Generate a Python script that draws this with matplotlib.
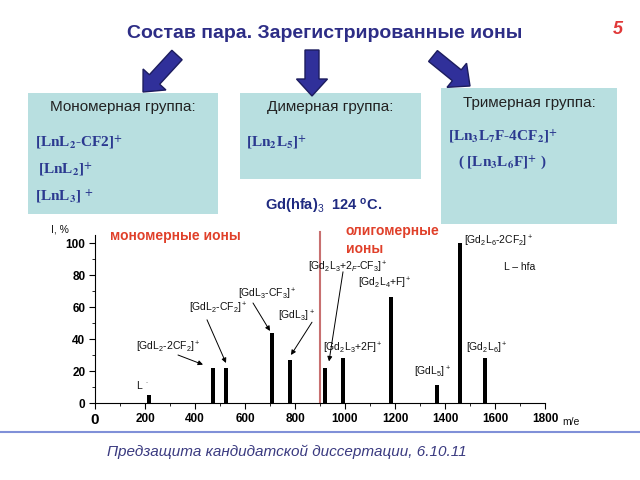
import matplotlib
matplotlib.use("Agg")
import matplotlib.pyplot as plt
from matplotlib.patches import Rectangle, FancyArrow
from matplotlib.ticker import MultipleLocator

# mass spectrum of Gd(hfa)3 vapour
mz = [216, 472, 524, 708, 780, 920, 992, 1184, 1368, 1460, 1560]
intensity = [5, 22, 22, 44, 27, 22, 28, 66, 11, 100, 28]

x_ticks = [0, 200, 400, 600, 800, 1000, 1200, 1400, 1600, 1800]
y_ticks = [0, 20, 40, 60, 80, 100]

# peak labels: text, x, y (data units)
peak_labels = [
    ("[GdL$_2$-2CF$_2$]$^+$", 292, 35),
    ("[GdL$_2$-CF$_2$]$^+$", 492, 59),
    ("[GdL$_3$-CF$_3$]$^+$", 688, 68),
    ("[GdL$_3$]$^+$", 808, 54),
    ("L $^\\cdot$", 190, 11),
    ("[Gd$_2$L$_3$+2$_F$-CF$_3$]$^+$", 1012, 85),
    ("[Gd$_2$L$_3$+2F]$^+$", 1032, 34),
    ("[Gd$_2$L$_4$+F]$^+$", 1160, 75),
    ("[GdL$_5$]$^+$", 1352, 19),
    ("[Gd$_2$L$_6$-2CF$_2$]$^+$", 1612, 101),
    ("L – hfa", 1700, 85),
    ("[Gd$_2$L$_6$]$^+$", 1568, 34),
]
# pointer lines: start (x, y) -> end (x, y)
pointers = [
    ((332, 30), (432, 24)),
    ((448, 52), (524, 25)),
    ((632, 62.5), (700, 45)),
    ((868, 50.5), (784, 30)),
    ((992, 82), (936, 26)),
]

plt.rcParams["mathtext.fontset"] = "custom"
plt.rcParams["mathtext.rm"] = "Liberation Sans"
plt.rcParams["mathtext.it"] = "Liberation Sans:italic"
plt.rcParams["mathtext.bf"] = "Liberation Sans:bold"
plt.rcParams["font.family"] = ["Liberation Sans", "DejaVu Sans"]

navy = "#2d2d86"
formula = "#2b3990"
box_fc = "#b8dfe0"
red = "#e0402a"

fig = plt.figure(figsize=(6.4, 4.8), dpi=100)

# slide layer in pixel coordinates
bg = fig.add_axes([0, 0, 1, 1])
bg.set_xlim(0, 640)
bg.set_ylim(480, 0)
bg.axis("off")

bg.text(325, 33, "Состав пара. Зарегистрированные ионы", ha="center", va="center",
        fontsize=14, fontweight="bold", color=navy)
bg.text(618, 30, "5", ha="center", va="center", fontsize=13, fontweight="bold",
        fontstyle="italic", color="#e03838")

# big arrows
for (x0, y0), (x1, y1) in [((177, 55), (143, 92)), ((312, 50), (312, 96)), ((433, 56), (470, 86))]:
    bg.add_patch(FancyArrow(x0, y0, x1 - x0, y1 - y0, width=14, head_width=31, head_length=17,
                            length_includes_head=True, fc="#30309a", ec="#1c1c5e", lw=1, zorder=3))

# group boxes
for x, y, w, h in [(28, 93, 190, 121), (240, 93, 181, 86), (441, 88, 176, 136)]:
    bg.add_patch(Rectangle((x, y), w, h, fc=box_fc, ec="none", zorder=1))

bg.text(123, 107, "Мономерная группа:", ha="center", va="center", fontsize=11, color="#222222")
bg.text(330, 107, "Димерная группа:", ha="center", va="center", fontsize=11, color="#222222")
bg.text(529, 103, "Тримерная группа:", ha="center", va="center", fontsize=11, color="#222222")

box_formulas = [
    (35, 143, "[LnL$_\\mathbf{2}$-CF2]$^\\mathbf{+}$"),
    (38, 170, "[LnL$_\\mathbf{2}$]$^\\mathbf{+}$"),
    (35, 197, "[LnL$_\\mathbf{3}$] $^\\mathbf{+}$"),
    (246, 143, "[Ln$_\\mathbf{2}$L$_\\mathbf{5}$]$^\\mathbf{+}$"),
    (448, 137, "[Ln$_\\mathbf{3}$L$_\\mathbf{7}$F-4CF$_\\mathbf{2}$]$^\\mathbf{+}$"),
    (458, 163, "( [Ln$_\\mathbf{3}$L$_\\mathbf{6}$F]$^\\mathbf{+}$ )"),
]
for x, y, s in box_formulas:
    bg.text(x, y, s, ha="left", va="center", fontsize=11, fontweight="bold",
            family="Liberation Serif", math_fontfamily="stix", color=formula, zorder=2)

bg.text(265, 206, "Gd(hfa)$_3$  124 $^\\mathbf{o}$C.", ha="left", va="center",
        fontsize=10.5, fontweight="bold", color="#1f2a80")

bg.text(110, 236, "мономерные ионы", ha="left", va="center", fontsize=10,
        fontweight="bold", color=red)
bg.text(346, 240, "олигомерные\nионы", ha="left", va="center", fontsize=10,
        fontweight="bold", color=red, linespacing=1.3)
bg.text(60, 229, "I, %", ha="center", va="center", fontsize=7.5, color="#111111")
bg.text(571, 422, "m/e", ha="center", va="center", fontsize=7.5, color="#111111")

# footer
bg.plot([0, 640], [432, 432], color="#8090d8", lw=1.5)
bg.text(107, 452, "Предзащита кандидатской диссертации, 6.10.11", ha="left", va="center",
        fontsize=11, fontstyle="italic", color="#3a3a80")

# spectrum
ax = fig.add_axes([95 / 640, 77 / 480, 450 / 640, 168 / 480])
ax.patch.set_alpha(0)
ax.bar(mz, intensity, width=14, color="black")
ax.set_xlim(0, 1800)
ax.set_ylim(0, 105)
ax.spines["top"].set_visible(False)
ax.spines["right"].set_visible(False)
ax.set_xticks(x_ticks)
ax.set_yticks(y_ticks)
ax.xaxis.set_minor_locator(MultipleLocator(100))
ax.yaxis.set_minor_locator(MultipleLocator(10))
ax.tick_params(axis="both", which="major", length=4, labelsize=8.5, pad=3)
ax.tick_params(axis="both", which="minor", length=2)
for lbl in ax.get_xticklabels() + ax.get_yticklabels():
    lbl.set_fontweight("bold")
ax.get_xticklabels()[0].set_fontsize(11)

ax.plot([900, 900], [0, 107], color="#c87070", lw=1.5, clip_on=False)

for s, x, y in peak_labels:
    ax.text(x, y, s, ha="center", va="center", fontsize=7.5, color="#111111")
for (x0, y0), (x1, y1) in pointers:
    ax.annotate("", xy=(x1, y1), xytext=(x0, y0),
                arrowprops=dict(arrowstyle="-|>", color="black", lw=0.7,
                                mutation_scale=7, shrinkA=0, shrinkB=0))

fig.savefig("out.png", dpi=100)
